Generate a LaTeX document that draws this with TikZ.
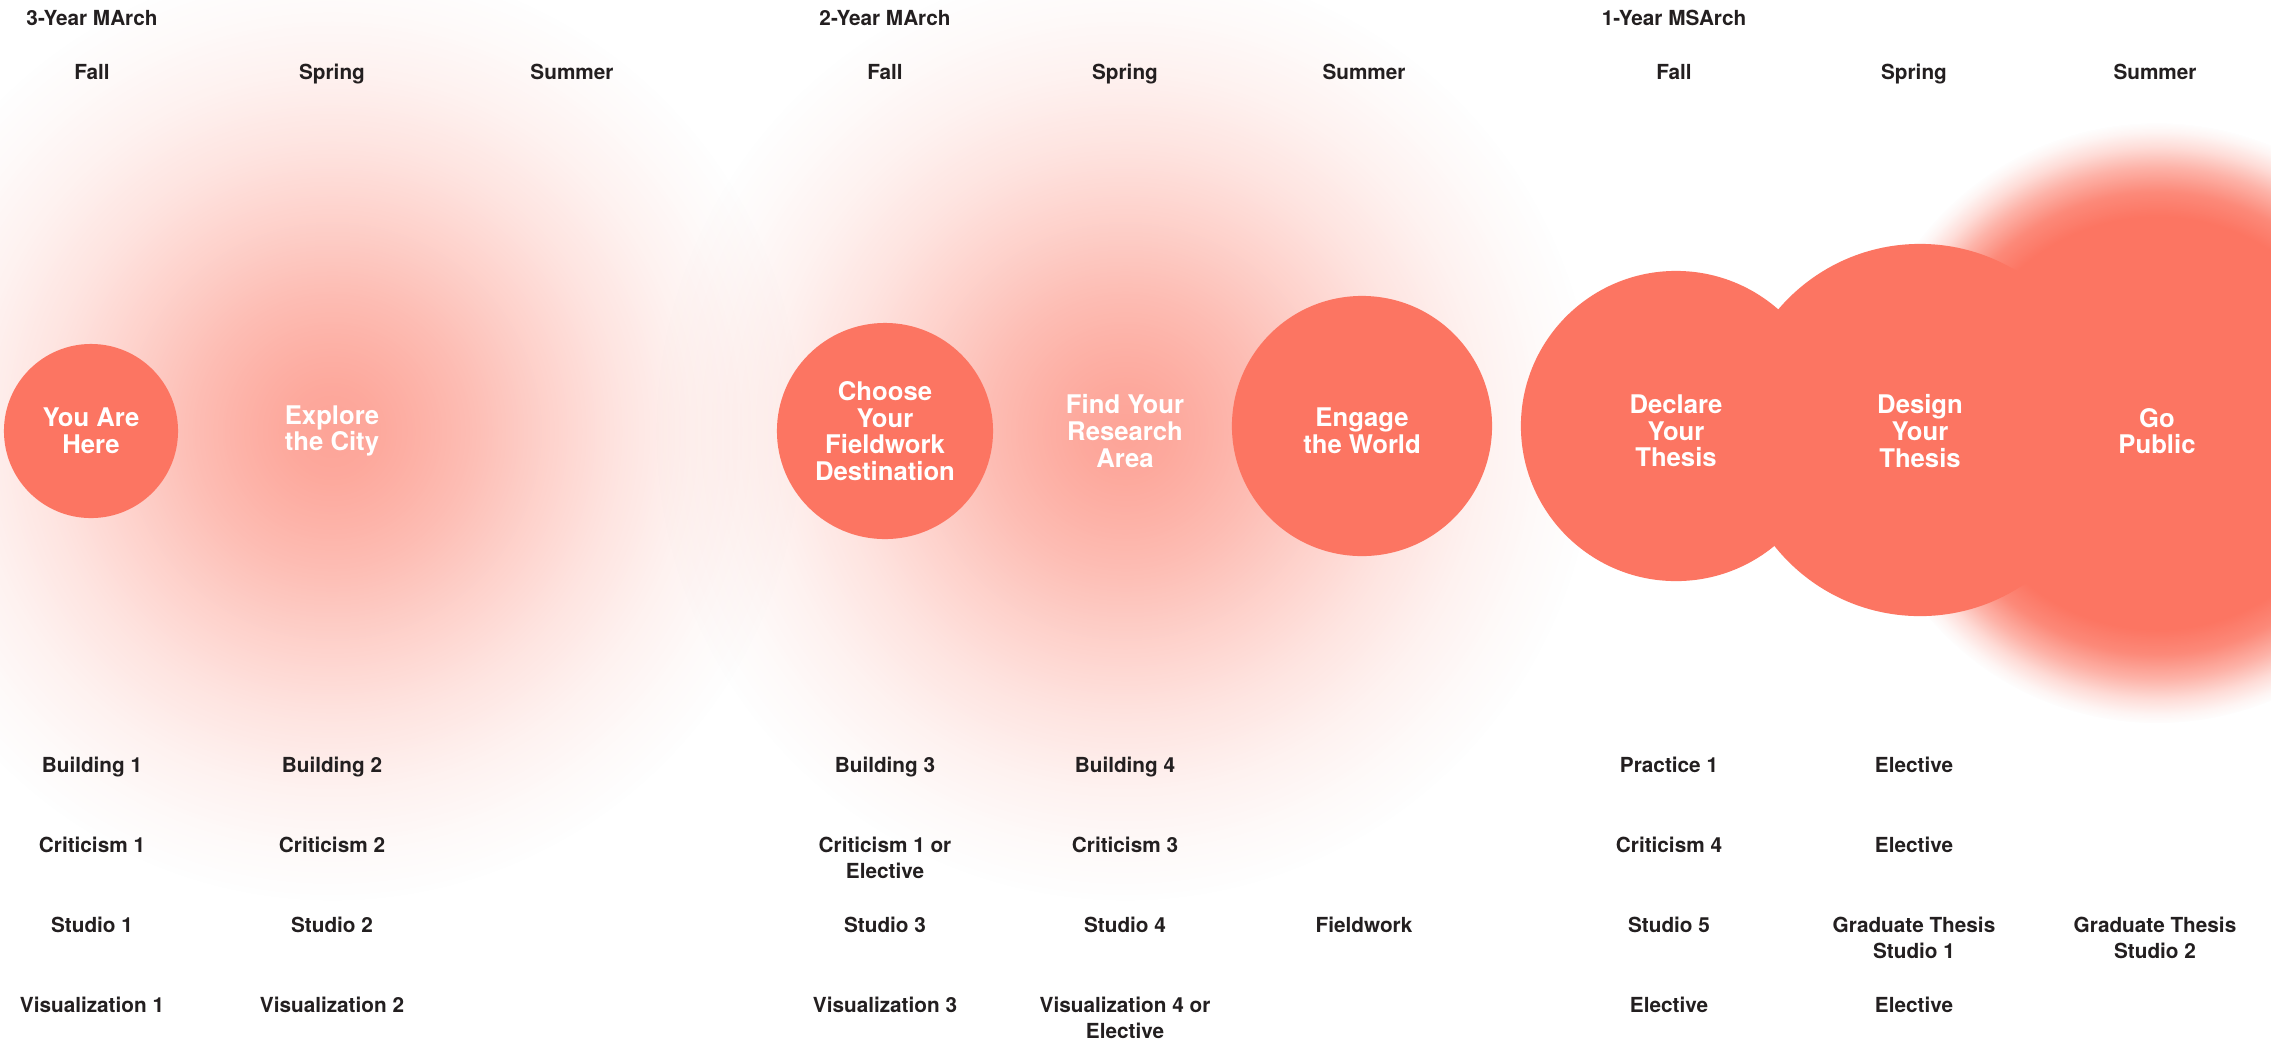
\documentclass[tikz,border=0pt]{standalone}
\usepackage{fontspec}
\setmainfont{TeX Gyre Heros}
\usetikzlibrary{fadings}

\definecolor{coral}{RGB}{252,117,98}
\definecolor{ink}{RGB}{35,31,32}

\newcommand\stagefont{\fontsize{7.3}{7.55}\selectfont\bfseries}
\newcommand\labelfont{\fontsize{5.9}{7.55}\selectfont\bfseries}

% soft glow, fading out towards the rim
\pgfdeclareradialshading{haloshade}{\pgfpointorigin}{%
  color(0bp)=(white!66!black); color(2.5bp)=(white!62!black);
  color(5bp)=(white!55!black); color(7.5bp)=(white!47!black);
  color(11.25bp)=(white!33!black); color(15bp)=(white!20!black);
  color(18.75bp)=(white!10!black); color(22bp)=(white!4!black);
  color(25bp)=(black); color(50bp)=(black)}
\pgfdeclarefading{halo}{\pgfuseshading{haloshade}}

% solid disc with a blurred edge
\pgfdeclareradialshading{softshade}{\pgfpointorigin}{%
  color(0bp)=(white); color(17.1bp)=(white);
  color(19.2bp)=(white!85!black); color(21.25bp)=(white!55!black);
  color(22.9bp)=(white!25!black); color(24.2bp)=(white!7!black);
  color(25bp)=(black); color(50bp)=(black)}
\pgfdeclarefading{softedge}{\pgfuseshading{softshade}}

\begin{document}
\begin{tikzpicture}[x=0.01cm,y=-0.01cm,
    stagecircle/.style={circle,fill=coral,inner sep=0pt},
    stagetext/.style={text=white,font=\stagefont,align=center,inner sep=0pt},
    headlabel/.style={text=ink,font=\labelfont,anchor=base,inner sep=0pt},
    courselabel/.style={text=ink,font=\labelfont,align=center,anchor=north,inner sep=0pt},
    glow/.style={fill=coral,path fading=halo},
    blurdisc/.style={fill=coral,path fading=softedge}]
    \fill[white] (0,0) rectangle (2271,1041);
    \useasboundingbox (0,0) rectangle (2271,1041);
    \clip (0,0) rectangle (2271,1041);

    \coordinate (c-explore) at (332,431);
    \coordinate (c-research) at (1125,431);
    \coordinate (c-public) at (2157,423);
    \fill[glow] (c-explore) circle (470);
    \fill[glow] (c-research) circle (470);
    \fill[blurdisc] (c-public) circle (300);

    \node[headlabel] (prog3) at (92,25.5) {3-Year MArch};
    \node[headlabel] (prog2) at (885,25.5) {2-Year MArch};
    \node[headlabel] (prog1) at (1674,25.5) {1-Year MSArch};

    \node[headlabel] (fall3) at (92,79.5) {Fall};
    \node[headlabel] (spring3) at (332,79.5) {Spring};
    \node[headlabel] (summer3) at (572,79.5) {Summer};
    \node[headlabel] (fall2) at (885,79.5) {Fall};
    \node[headlabel] (spring2) at (1125,79.5) {Spring};
    \node[headlabel] (summer2) at (1364,79.5) {Summer};
    \node[headlabel] (fall1) at (1674,79.5) {Fall};
    \node[headlabel] (spring1) at (1914,79.5) {Spring};
    \node[headlabel] (summer1) at (2155,79.5) {Summer};

    \node[stagecircle,minimum size=1.74cm] (here) at (91,431) {};
    \node[stagecircle,minimum size=2.16cm] (choose) at (885,431) {};
    \node[stagecircle,minimum size=2.6cm] (engage) at (1362,426) {};
    \node[stagecircle,minimum size=3.1cm] (declare) at (1676,426) {};
    \node[stagecircle,minimum size=3.72cm] (design) at (1920,430) {};

    \node[stagetext] (here-t) at (91,431) {You Are\\Here};
    \node[stagetext] (explore) at (332,431) {Explore\\the City};
    \node[stagetext] (choose-t) at (885,431) {Choose\\Your\\Fieldwork\\Destination};
    \node[stagetext] (research) at (1125,431) {Find Your\\Research\\Area};
    \node[stagetext] (engage-t) at (1362,431) {Engage\\the World};
    \node[stagetext] (declare-t) at (1676,431) {Declare\\Your\\Thesis};
    \node[stagetext] (design-t) at (1920,431) {Design\\Your\\Thesis};
    \node[stagetext] (public) at (2157,431) {Go\\Public};

    \node[courselabel] (bld1) at (92,756) {Building 1};
    \node[courselabel] (crit1) at (92,836) {Criticism 1};
    \node[courselabel] (stu1) at (92,916) {Studio 1};
    \node[courselabel] (vis1) at (92,996) {Visualization 1};

    \node[courselabel] (bld2) at (332,756) {Building 2};
    \node[courselabel] (crit2) at (332,836) {Criticism 2};
    \node[courselabel] (stu2) at (332,916) {Studio 2};
    \node[courselabel] (vis2) at (332,996) {Visualization 2};

    \node[courselabel] (bld3) at (885,756) {Building 3};
    \node[courselabel] (crit1e) at (885,836) {Criticism 1 or\\Elective};
    \node[courselabel] (stu3) at (885,916) {Studio 3};
    \node[courselabel] (vis3) at (885,996) {Visualization 3};

    \node[courselabel] (bld4) at (1125,756) {Building 4};
    \node[courselabel] (crit3) at (1125,836) {Criticism 3};
    \node[courselabel] (stu4) at (1125,916) {Studio 4};
    \node[courselabel] (vis4) at (1125,996) {Visualization 4 or\\Elective};

    \node[courselabel] (field) at (1364,916) {Fieldwork};

    \node[courselabel] (prac1) at (1669,756) {Practice 1};
    \node[courselabel] (crit4) at (1669,836) {Criticism 4};
    \node[courselabel] (stu5) at (1669,916) {Studio 5};
    \node[courselabel] (elec1) at (1669,996) {Elective};

    \node[courselabel] (elec2) at (1914,756) {Elective};
    \node[courselabel] (elec3) at (1914,836) {Elective};
    \node[courselabel] (thesis1) at (1914,916) {Graduate Thesis\\Studio 1};
    \node[courselabel] (elec4) at (1914,996) {Elective};

    \node[courselabel] (thesis2) at (2155,916) {Graduate Thesis\\Studio 2};
\end{tikzpicture}
\end{document}
